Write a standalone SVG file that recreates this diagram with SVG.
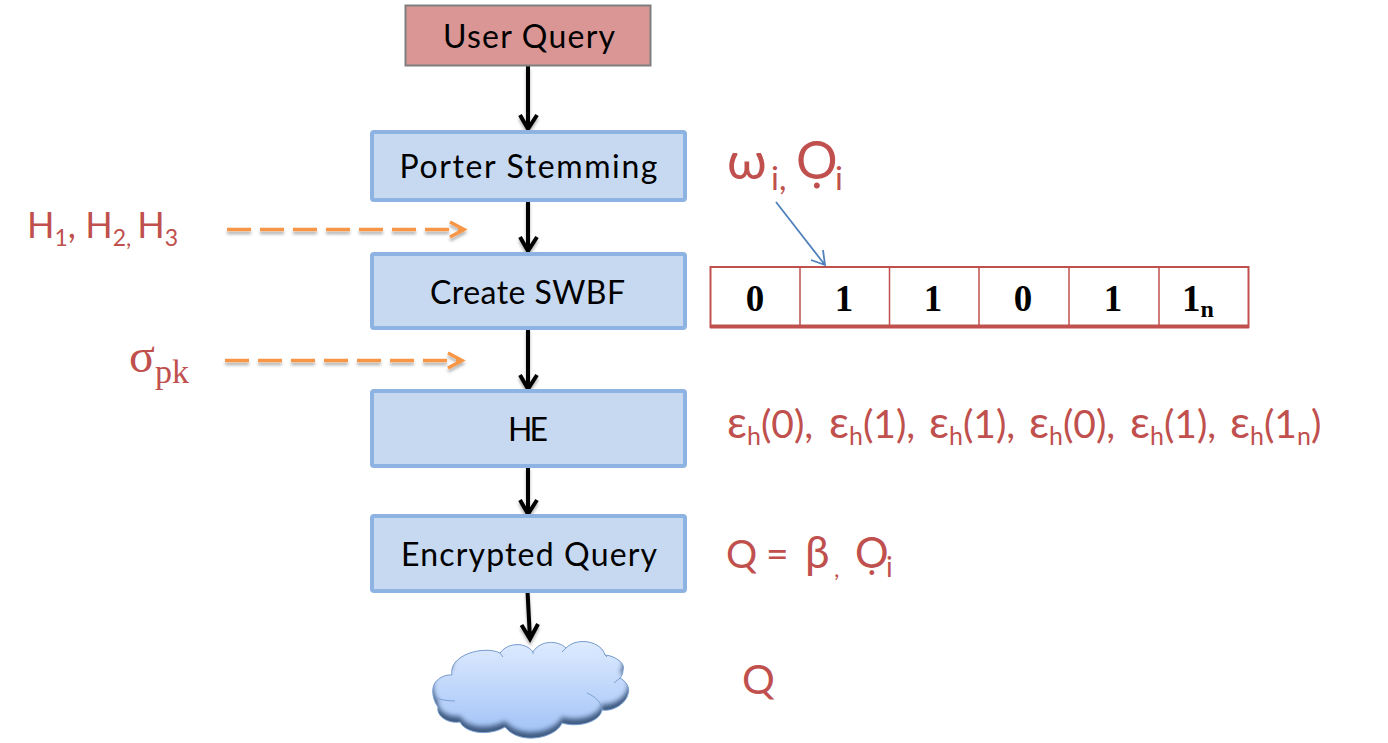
<svg xmlns="http://www.w3.org/2000/svg" width="1388" height="743" viewBox="0 0 1388 743">
<style>
.lbl{font-family:Lato,"Open Sans","Liberation Sans",sans-serif;fill:#000;font-size:32px;text-anchor:middle}
.red{font-family:Lato,"Open Sans","Liberation Sans",sans-serif;fill:#c0504d}
.serif{font-family:"Liberation Serif",serif;fill:#c0504d}
.box{fill:#c6d9f1;stroke:#8db3e2;stroke-width:4}
.cell{font-family:"Liberation Serif",serif;font-weight:bold;font-size:37px;fill:#000;text-anchor:middle}
.blk{fill:none;stroke:#000;stroke-width:4}
.org{fill:none;stroke:#f79646;stroke-width:3.5}
.shadow{filter:url(#ds)}
</style>
<defs>
<filter id="ds" x="-30%" y="-30%" width="160%" height="160%"><feDropShadow dx="0" dy="3" stdDeviation="1.5" flood-color="#000" flood-opacity="0.3"/></filter>
<filter id="bl" x="-20%" y="-20%" width="140%" height="140%"><feGaussianBlur stdDeviation="2.5"/></filter>
<linearGradient id="cg" x1="0" y1="0" x2="0" y2="1"><stop offset="0" stop-color="#e2edff"/><stop offset="1" stop-color="#a3c4f7"/></linearGradient>
<path id="cl" d="M433,688 C434,680 444,674 452,675 C448,655 484,645 500,653 C508,642 526,642 533,652 C540,640 558,640 566,648 C578,636 602,642 605,655 C616,656 626,664 623,670 C623,673 622,676 620,678 C628,682 630,690 628,694 C626,704 612,712 602,710 C600,722 578,728 562,723 C556,738 520,746 505,727 C490,736 466,734 460,722 C448,724 436,716 438,707 C434,702 432,694 433,688 Z"/>
<clipPath id="cc"><use href="#cl"/></clipPath>
</defs>
<rect width="1388" height="743" fill="#fff"/>
<g id="connectors">
<g class="shadow">
<path class="blk" d="M528,66V129M520,115L528,129L537,115"/>
<path class="blk" d="M528,200V251M520,237L528,251L537,237"/>
<path class="blk" d="M528,328V389M520,375L528,389L537,375"/>
<path class="blk" d="M528,466V514M520,500L528,514L537,500"/>
<path class="blk" d="M527.500,591L530,639M521.500,625L530,639L538,624"/>
<path class="org" stroke-dasharray="24 9" d="M227,229.500H462"/>
<path class="org" d="M450,222L464,229.500L450,237"/>
<path class="org" stroke-dasharray="24 9" d="M225,360.500H460"/>
<path class="org" d="M448,353L462,360.500L448,368"/>
</g>
<path d="M776,202L825,265M811,260L825,265L823,250" fill="none" stroke="#4f81bd" stroke-width="1.800"/>
</g>
<g id="user-query"><rect x="405.500" y="5.500" width="245" height="60" fill="#d99694" stroke="#7f7f7f" stroke-width="2"/><text class="lbl" x="529" y="48" textLength="172">User Query</text></g>
<g id="porter-stemming"><rect class="box" x="372" y="132" width="313" height="68" rx="2"/><text class="lbl" x="528.500" y="178" textLength="258">Porter Stemming</text></g>
<g id="create-swbf"><rect class="box" x="372" y="254" width="313" height="74" rx="2"/><text class="lbl" x="527.500" y="304" textLength="195">Create SWBF</text></g>
<g id="he"><rect class="box" x="372" y="391" width="313" height="75" rx="2"/><text class="lbl" x="528" y="441" textLength="40">HE</text></g>
<g id="encrypted-query"><rect class="box" x="372" y="516" width="313" height="75" rx="2"/><text class="lbl" x="529" y="566" textLength="256">Encrypted Query</text></g>
<g id="cloud">
<use href="#cl" fill="#8db3e2"/>
<g clip-path="url(#cc)">
<use href="#cl" fill="#3f5a80"/>
<use href="#cl" fill="url(#cg)" transform="translate(0,-6)" filter="url(#bl)"/>
</g>
<use href="#cl" fill="none" stroke="#7ba0d0" stroke-width="1"/>
<path d="M500,653L503,657M533,652L533,654M566,648L562,652M605,655L607,657M620,678L614,683M436,698C442,700 448,701 455,701M587,693C596,697 602,703 602,710" fill="none" stroke="#7ba0d0" stroke-width="1"/>
</g>
<g id="label-hashes"><text class="red" x="27" y="238" font-size="36">H<tspan font-size="23" dy="8">1</tspan><tspan dy="-8">, H</tspan><tspan font-size="23" dy="8">2, </tspan><tspan dy="-8">H</tspan><tspan font-size="23" dy="8">3</tspan></text></g>
<g id="label-sigma"><text class="serif" x="129" y="372" font-size="48">σ<tspan font-size="34" dy="11">pk</tspan></text></g>
<g id="label-omega"><text class="red" y="179" font-size="52"><tspan x="727">ω</tspan><tspan x="771" font-size="33" dy="11">i,</tspan><tspan x="796" dy="-11">Ọ</tspan><tspan x="835" font-size="33" dy="11">i</tspan></text></g>
<g id="bloom-filter">
<rect x="710.500" y="267" width="538" height="60" fill="#fff" stroke="#c0504d" stroke-width="2"/>
<path d="M710,326.500H1249" stroke="#c0504d" stroke-width="4" fill="none"/>
<path d="M800,267V327M889.500,267V327M979,267V327M1069,267V327M1159,267V327" stroke="#c0504d" stroke-width="1.500" fill="none"/>
<text class="cell" x="755" y="311">0</text><text class="cell" x="844" y="311">1</text><text class="cell" x="933" y="311">1</text><text class="cell" x="1023" y="311">0</text><text class="cell" x="1113" y="311">1</text><text class="cell" x="1198" y="311">1<tspan font-size="24" dy="6">n</tspan></text>
</g>
<g id="label-he">
<text class="red" x="727" y="438" font-size="39"><tspan font-size="44">ε</tspan><tspan font-size="25" dy="7">h</tspan><tspan dy="-7">(0),</tspan></text>
<text class="red" x="829" y="438" font-size="39"><tspan font-size="44">ε</tspan><tspan font-size="25" dy="7">h</tspan><tspan dy="-7">(1),</tspan></text>
<text class="red" x="929" y="438" font-size="39"><tspan font-size="44">ε</tspan><tspan font-size="25" dy="7">h</tspan><tspan dy="-7">(1),</tspan></text>
<text class="red" x="1029" y="438" font-size="39"><tspan font-size="44">ε</tspan><tspan font-size="25" dy="7">h</tspan><tspan dy="-7">(0),</tspan></text>
<text class="red" x="1130" y="438" font-size="39"><tspan font-size="44">ε</tspan><tspan font-size="25" dy="7">h</tspan><tspan dy="-7">(1),</tspan></text>
<text class="red" x="1230" y="438" font-size="39"><tspan font-size="44">ε</tspan><tspan font-size="25" dy="7">h</tspan><tspan dy="-7">(1</tspan><tspan font-size="25" dy="7">n</tspan><tspan dy="-7">)</tspan></text>
</g>
<g id="label-q-beta"><text class="red" y="568" font-size="39"><tspan x="726">Q</tspan><tspan x="766">=</tspan><tspan x="805" font-size="44">β</tspan><tspan x="834" font-size="24" dy="9">,</tspan><tspan x="855" dy="-9" font-size="42">Ọ</tspan><tspan x="886" font-size="28" dy="9">i</tspan></text></g>
<g id="label-q"><text class="red" x="742" y="694" font-size="41">Q</text></g>
</svg>
